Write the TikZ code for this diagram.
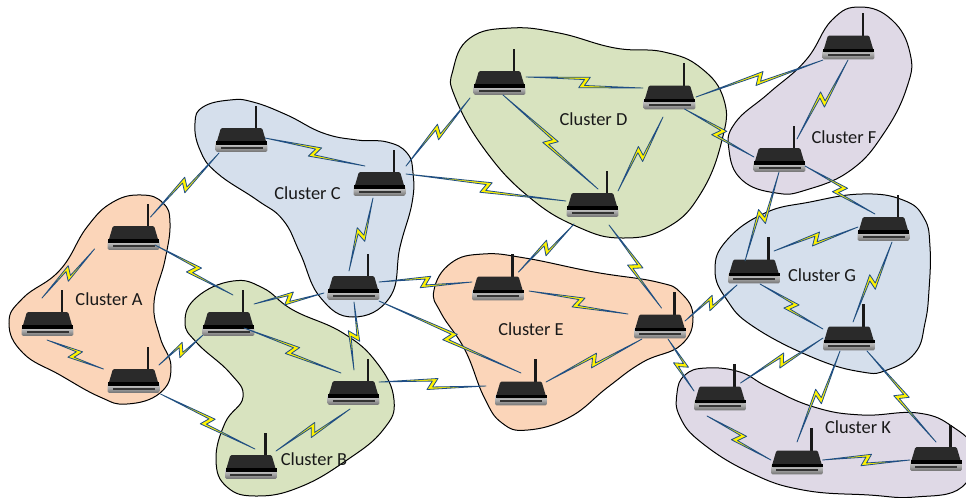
\documentclass[tikz,border=0pt]{standalone}
\usepackage{fontspec}
\setmainfont{Carlito}
\usetikzlibrary{
  calc,
}
\definecolor{orangefill}{HTML}{FBD5B9}
\definecolor{olivefill}{HTML}{D8E3BF}
\definecolor{bluefill}{HTML}{D5DFEC}
\definecolor{purplefill}{HTML}{DFD9E6}
\definecolor{linkblue}{HTML}{1F4E86}
\definecolor{routerdark}{HTML}{2A2A2A}
\tikzset{
  cluster/.style={
    draw=black,
    line width=0.75pt,
    smooth cycle,
    tension=0.75
  },
  cluster label/.style={
    inner sep=0pt,
    text=black!90,
    font=\fontsize{13.8pt}{16pt}\selectfont
  },
  router box/.style={
    inner sep=0pt,
    minimum width=38pt,
    minimum height=18pt,
    rectangle
  },
  zap line/.style={
    draw=linkblue,
    fill=yellow,
    line width=0.6pt,
    line join=round
  },
  pics/router body/.style={
    code={
      \fill[black!90] (13.4,-8) rectangle (15.6,-34.5);
      \shade[top color=black!10,bottom color=black!55,rounded corners=1pt]
        (-25.9,1) rectangle (25.9,11.8);
      \fill[routerdark,rounded corners=1pt] (-25.5,4.6) -- (-20.6,-12) -- (20.6,-12) -- (25.5,4.6) -- cycle;
      \fill[black] (-25.5,1.2) rectangle (25.5,4.8);
      \fill[black!80] (-21,6.9) rectangle (21,8.9);
    }
  }
}
% name, x, y (pixels of the page)
\newcommand{\router}[3]{
  \node[router box] (#1) at (#2,#3) {};
  \pic at (#1) {router body};
}
% from node, offset, to node, offset
\newcommand{\zap}[4]{
  \coordinate (zs) at ($(#1)+(#2)$);
  \coordinate (ze) at ($(#3)+(#4)$);
  \coordinate (zm) at ($(zs)!0.5!(ze)$);
  \draw[zap line] (zs)
    -- ($(zm)!4pt!(ze)!4.3pt!90:(ze)$)
    -- ($(zm)!0.2pt!(ze)!-2.2pt!90:(ze)$)
    -- (ze)
    -- ($(zm)!-4pt!(ze)!-4.3pt!90:(ze)$)
    -- ($(zm)!-0.2pt!(ze)!2.2pt!90:(ze)$)
    -- cycle;
}

\begin{document}
\begin{tikzpicture}[x=0.75pt,y=-0.75pt]
\clip (0,0) rectangle (966,497);
% clusters
\fill[cluster,fill=orangefill] plot coordinates {
  (142,195) (163,203) (170,223) (165,260) (154,303) (160,337) (171,367) (160,393)
  (127,404) (100,397) (60,375) (23,353) (9,323) (23,298) (60,270) (87,227) (113,202)};
\fill[cluster,fill=olivefill] plot coordinates {
  (233,281) (263,288) (293,310) (343,333) (377,363) (394,400) (383,430) (347,460)
  (300,487) (257,496) (227,487) (216,460) (225,423) (243,397) (230,373) (197,343)
  (185,322) (197,297)};
\fill[cluster,fill=bluefill] plot coordinates {
  (230,100) (253,102) (287,115) (323,133) (357,140) (387,142) (407,153) (413,173)
  (412,203) (400,247) (390,297) (353,317) (320,297) (300,253) (283,220) (257,200)
  (217,173) (200,150) (195,123) (203,107)};
\fill[cluster,fill=olivefill] plot coordinates {
  (511,28) (559,33) (615,48) (664,52) (701,68) (724,100) (722,140) (701,193)
  (668,227) (623,238) (578,227) (529,197) (485,150) (455,97) (453,70) (470,38)};
\fill[cluster,fill=purplefill] plot coordinates {
  (860,7) (892,20) (910,53) (907,87) (884,133) (851,170) (806,190) (776,193)
  (742,180) (729,150) (735,123) (769,93) (806,60) (832,20)};
\fill[cluster,fill=bluefill] plot coordinates {
  (862,194) (903,200) (924,218) (930,247) (929,290) (925,323) (915,353) (887,370) (862,372)
  (814,358) (754,327) (727,300) (715,270) (727,240) (765,213) (810,202)};
\fill[cluster,fill=orangefill] plot coordinates {
  (483,254) (525,258) (594,272) (657,282) (681,293) (693,317) (681,345) (643,362)
  (608,387) (570,417) (528,430) (502,423) (484,397) (465,350) (441,313) (434,290)
  (451,263)};
\fill[cluster,fill=purplefill] plot coordinates {
  (706,368) (740,372) (768,387) (814,407) (862,415) (918,413) (953,427) (972,450)
  (962,487) (915,497) (869,495) (803,490) (751,473) (702,443) (680,417) (677,393)
  (685,375)};
% routers
\router{a1}{133.5}{238}
\router{a2}{47.5}{324}
\router{a3}{133.5}{381}
\router{b1}{228.5}{324}
\router{b2}{353.5}{393}
\router{b3}{251}{467}
\router{c1}{241.5}{140}
\router{c2}{379.5}{184}
\router{c3}{353.5}{288}
\router{d1}{499.5}{83}
\router{d2}{669.5}{97.5}
\router{d3}{592.5}{205}
\router{e1}{498}{288.5}
\router{e2}{660}{326.5}
\router{e3}{521}{393.5}
\router{f1}{848.5}{47.5}
\router{f2}{779.5}{160}
\router{g1}{754}{271.5}
\router{g2}{883.5}{229}
\router{g3}{849}{338.5}
\router{k1}{720}{398.5}
\router{k2}{797}{462.5}
\router{k3}{936}{459}
% radio links
\zap{a1}{17,-21}{c1}{-22.5,13}
\zap{a1}{-39,11}{a2}{-5.5,-26}
\zap{a2}{-0.5,16}{a3}{-30,-12}
\zap{a1}{21.5,7}{b1}{4.5,-29}
\zap{a3}{25.5,-16}{b1}{-25.5,11}
\zap{a3}{27,13}{b3}{4,-18}
\zap{b1}{15.5,4}{b2}{-12.5,-20}
\zap{b1}{25.5,-20}{c3}{-29.5,5}
\zap{b2}{0.5,-23}{c3}{0.5,14}
\zap{b2}{-3.5,16}{b3}{25,-16}
\zap{c3}{-4.5,-17}{c2}{-6.5,14}
\zap{b2}{25.5,-11}{e3}{-35,-7.5}
\zap{c3}{25.5,-6}{e1}{-26,-6.5}
\zap{c3}{25.5,13}{e3}{0,-20.5}
\zap{c1}{23.5,-2}{c2}{-14.5,-18}
\zap{c2}{26.5,-10}{d3}{-26.5,-4}
\zap{c2}{26.5,-18}{d1}{-29.5,15}
\zap{d1}{26.5,-6}{d2}{-26.5,-9.5}
\zap{d1}{3.5,12}{d3}{5.5,-16}
\zap{d2}{-6.5,19.5}{d3}{25.5,-14}
\zap{d2}{26.5,-0.5}{f1}{-25.5,12.5}
\zap{d2}{15,11.5}{f2}{-25.5,-3}
\zap{f1}{-0.5,12.5}{f2}{17.5,-21}
\zap{f2}{25.5,6}{g2}{-8.5,-15}
\zap{f2}{-0.5,12}{g1}{-9,-10.5}
\zap{g1}{20,-20.5}{g2}{-25.5,-2}
\zap{g2}{8.5,13}{g3}{4,-16.5}
\zap{d3}{-18.5,19}{e1}{20.5,-16.5}
\zap{d3}{16.5,20}{e2}{1.5,-18.5}
\zap{e1}{31,2.5}{e2}{-32,-12.5}
\zap{e2}{-18,12.5}{e3}{25,-11.5}
\zap{e2}{25,-5.5}{g1}{-17,13.5}
\zap{e2}{8,12.5}{k1}{-26,-7.5}
\zap{g1}{6,12.5}{g3}{-26,-9.5}
\zap{g3}{-26,-0.5}{k1}{20.5,-15.5}
\zap{g3}{-9,12.5}{k2}{0,-20.5}
\zap{g3}{18,12.5}{k3}{0,-17}
\zap{k1}{-13,17.5}{k2}{-26,-2.5}
\zap{k2}{25.5,-2.5}{k3}{-26,1}
% labels
\node[cluster label] (la) at (109,299) {Cluster A};
\node[cluster label] (lb) at (314,459) {Cluster B};
\node[cluster label] (lc) at (307.5,193) {Cluster C};
\node[cluster label] (ld) at (593.5,119) {Cluster D};
\node[cluster label] (le) at (531,329) {Cluster E};
\node[cluster label] (lf) at (844,137) {Cluster F};
\node[cluster label] (lg) at (822,275) {Cluster G};
\node[cluster label] (lk) at (858,427) {Cluster K};
\end{tikzpicture}
\end{document}
